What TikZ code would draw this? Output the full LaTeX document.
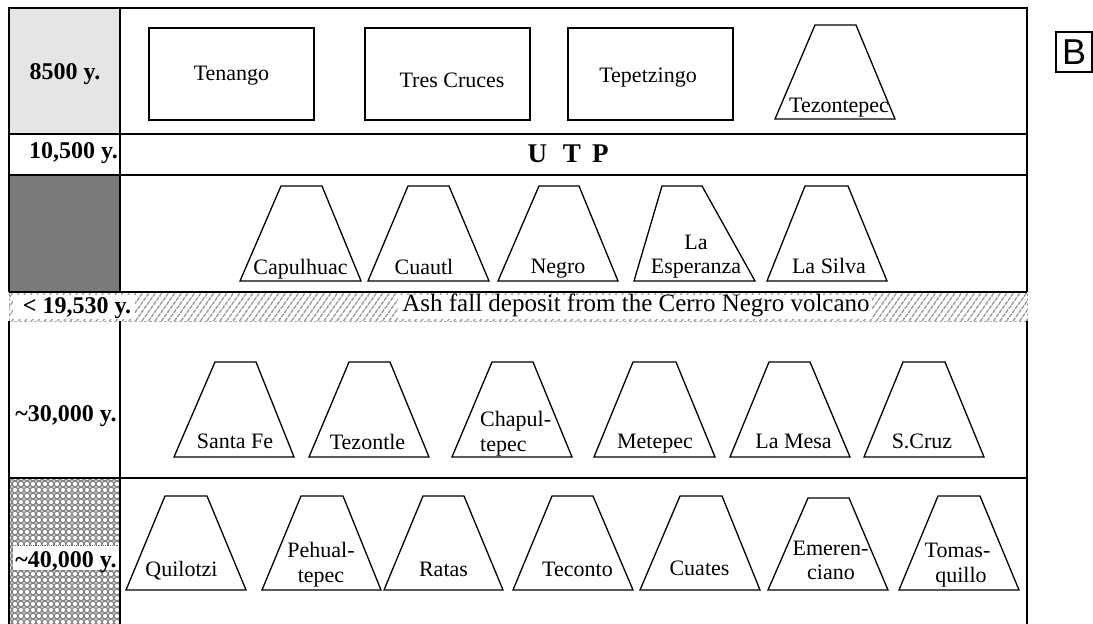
\documentclass[tikz,border=0pt]{standalone}
\usepackage{fontspec}
\setmainfont{Liberation Serif}
\newfontfamily\bsans{Liberation Sans}
\begin{document}
\begin{tikzpicture}[x=1pt,y=-1pt,
  frame/.style={line width=1.6pt},
  volc/.style={draw, line width=1.3pt, line join=miter},
  boxv/.style={draw, line width=1.3pt, minimum width=165, minimum height=92, inner sep=0pt},
  lab/.style={font=\fontsize{22}{24}\selectfont, anchor=base, inner sep=0pt},
  yr/.style={font=\fontsize{24}{26}\selectfont\bfseries, anchor=base, inner sep=0pt},
  hatchline/.style={gray!80, line width=1.3pt, dash pattern=on 4pt off 1pt}]
\newcommand\volcano[7]{\draw[volc] (#2,#7) -- (#3,#6) -- (#4,#6) -- (#5,#7) -- cycle; \coordinate (#1) at ({(#2+#5)/2},{(#6+#7)/2});}
\useasboundingbox (0,0) rectangle (1093,624);
% left column fills
\fill[black!10] (9,8) rectangle (120,134);
\fill[black!52] (9,175) rectangle (120,292);
\begin{scope}
  \clip (9,478) rectangle (120,624);
  \fill[black!50] (9,478) rectangle (120,624);
  \foreach \i in {0,...,19} \foreach \j in {0,...,25} {
    \fill[white] (9+\i*6,478+\j*6) circle (2.1pt);
    \fill[black!22] (12+\i*6,481+\j*6) circle (1.5pt);
  }
\end{scope}
% ash band
\fill[white] (9,293) rectangle (1027,321);
\begin{scope}
  \clip (9,293) rectangle (1027,321);
  \foreach \x in {-40,-33.5,...,1040} \draw[hatchline] (\x,321) -- (\x+20,293);
\end{scope}
\fill[white] (13,295) rectangle (135,319);
\fill[white] (398,295) rectangle (872,319);
\draw[gray!60, dash pattern=on 3pt off 2pt, line width=1pt] (9,321) -- (1027,321);
\draw[gray!60, dash pattern=on 3pt off 2pt, line width=1pt] (9,293) -- (9,321);
\draw[gray!60, dash pattern=on 3pt off 2pt, line width=1pt] (1027,293) -- (1027,321);
% frame
\draw[frame] (9,292) -- (9,8) -- (1027,8) -- (1027,292);
\draw[frame] (1027,321) -- (1027,624);
\draw[frame] (9,321) -- (9,624);
\draw[frame] (120,8) -- (120,292);
\draw[frame] (120,321) -- (120,624);
\draw[frame] (9,134) -- (1027,134);
\draw[frame] (9,175) -- (1027,175);
\draw[frame] (9,292) -- (1027,292);
\draw[frame] (9,478) -- (1027,478);
% ~40,000 label box
\fill[white] (13,545) rectangle (119,570);
\draw[black!60, densely dotted, line width=0.8pt] (13,545) -- (119,545);
% year labels
\node[yr] (y8500) at (65,79) {8500 y.};
\node[yr] (y10500) at (73.5,158) {10,500 y.};
\node[yr] (y19530) at (77,313) {< 19,530 y.};
\node[yr] (y30000) at (66,421) {\textasciitilde30,000 y.};
\node[yr] (y40000) at (66,567) {\textasciitilde40,000 y.};
% row 1
\node[boxv] (tenango) at (231.5,74) {};
\node[boxv] (trescruces) at (447.5,74) {};
\node[boxv] (tepetzingo) at (650.5,74) {};
\node[lab] (ltenango) at (231.5,80) {Tenango};
\node[lab] (ltrescruces) at (452,87) {Tres Cruces};
\node[lab] (ltepetzingo) at (648,82) {Tepetzingo};
\volcano{tezontepec}{775}{815}{856}{895}{25}{119}
\node[lab] (ltezontepec) at (839,112) {Tezontepec};
% UTP
\node[font=\fontsize{27}{29}\selectfont\bfseries, anchor=base, inner sep=0pt] (utp) at (568,162) {U\hspace{16pt}T\hspace{11pt}P};
% ash text
\node[font=\fontsize{25}{27}\selectfont, anchor=base, inner sep=0pt] (ash) at (636,311) {Ash fall deposit from the Cerro Negro volcano};
% row 3
\volcano{capulhuac}{240}{281}{322}{361}{186}{281}
\volcano{cuautl}{368}{408}{449}{489}{186}{281}
\volcano{negro}{498}{539}{579}{618}{186}{281}
\volcano{esperanza}{634}{662}{702}{755}{186}{281}
\volcano{silva}{767}{805}{848}{887}{186}{281}
\node[lab] (lcapulhuac) at (300.5,274) {Capulhuac};
\node[lab] (lcuautl) at (424,274) {Cuautl};
\node[lab] (lnegro) at (558,273) {Negro};
\node[lab] (lesp1) at (696,249) {La};
\node[lab] (lesp2) at (696,273) {Esperanza};
\node[lab] (lsilva) at (829,273) {La Silva};
% row 4
\volcano{santafe}{174}{215}{256}{294}{362}{457}
\volcano{tezontle}{309}{349}{390}{429}{362}{457}
\volcano{chapultepec}{452}{492}{533}{572}{362}{457}
\volcano{metepec}{594}{633}{676}{715}{362}{457}
\volcano{lamesa}{730}{769}{810}{850}{362}{457}
\volcano{scruz}{864}{903}{945}{984}{362}{457}
\node[lab] (lsantafe) at (235,448) {Santa Fe};
\node[lab] (ltezontle) at (367.5,449) {Tezontle};
\node[lab, anchor=base west] (lchap1) at (480,426) {Chapul-};
\node[lab, anchor=base west] (lchap2) at (480,451) {tepec};
\node[lab] (lmetepec) at (655,448) {Metepec};
\node[lab] (llamesa) at (793.5,448) {La Mesa};
\node[lab] (lscruz) at (922,448) {S.Cruz};
% row 5
\volcano{quilotzi}{126}{165}{207}{246}{496}{590}
\volcano{pehualtepec}{262}{301}{343}{381}{496}{590}
\volcano{ratas}{384}{423}{464}{503}{496}{590}
\volcano{teconto}{513}{552}{593}{633}{496}{590}
\volcano{cuates}{640}{680}{722}{760}{496}{590}
\volcano{emerenciano}{768}{808}{849}{888}{498}{590}
\volcano{tomasquillo}{899}{938}{980}{1019}{496}{590}
\node[lab] (lquilotzi) at (181.5,576) {Quilotzi};
\node[lab] (lpeh1) at (321,557) {Pehual-};
\node[lab] (lpeh2) at (321,582) {tepec};
\node[lab] (lratas) at (443.5,576) {Ratas};
\node[lab] (lteconto) at (577.5,576) {Teconto};
\node[lab] (lcuates) at (699.5,575) {Cuates};
\node[lab] (lem1) at (830.5,555) {Emeren-};
\node[lab] (lem2) at (831,579) {ciano};
\node[lab] (ltom1) at (957.5,557) {Tomas-};
\node[lab] (ltom2) at (961,582) {quillo};
% panel letter
\node[draw, line width=1.2pt, minimum width=36, minimum height=40, inner sep=0pt, font=\bsans\fontsize{36}{36}\selectfont] (panelB) at (1074,52) {B};
\end{tikzpicture}
\end{document}
